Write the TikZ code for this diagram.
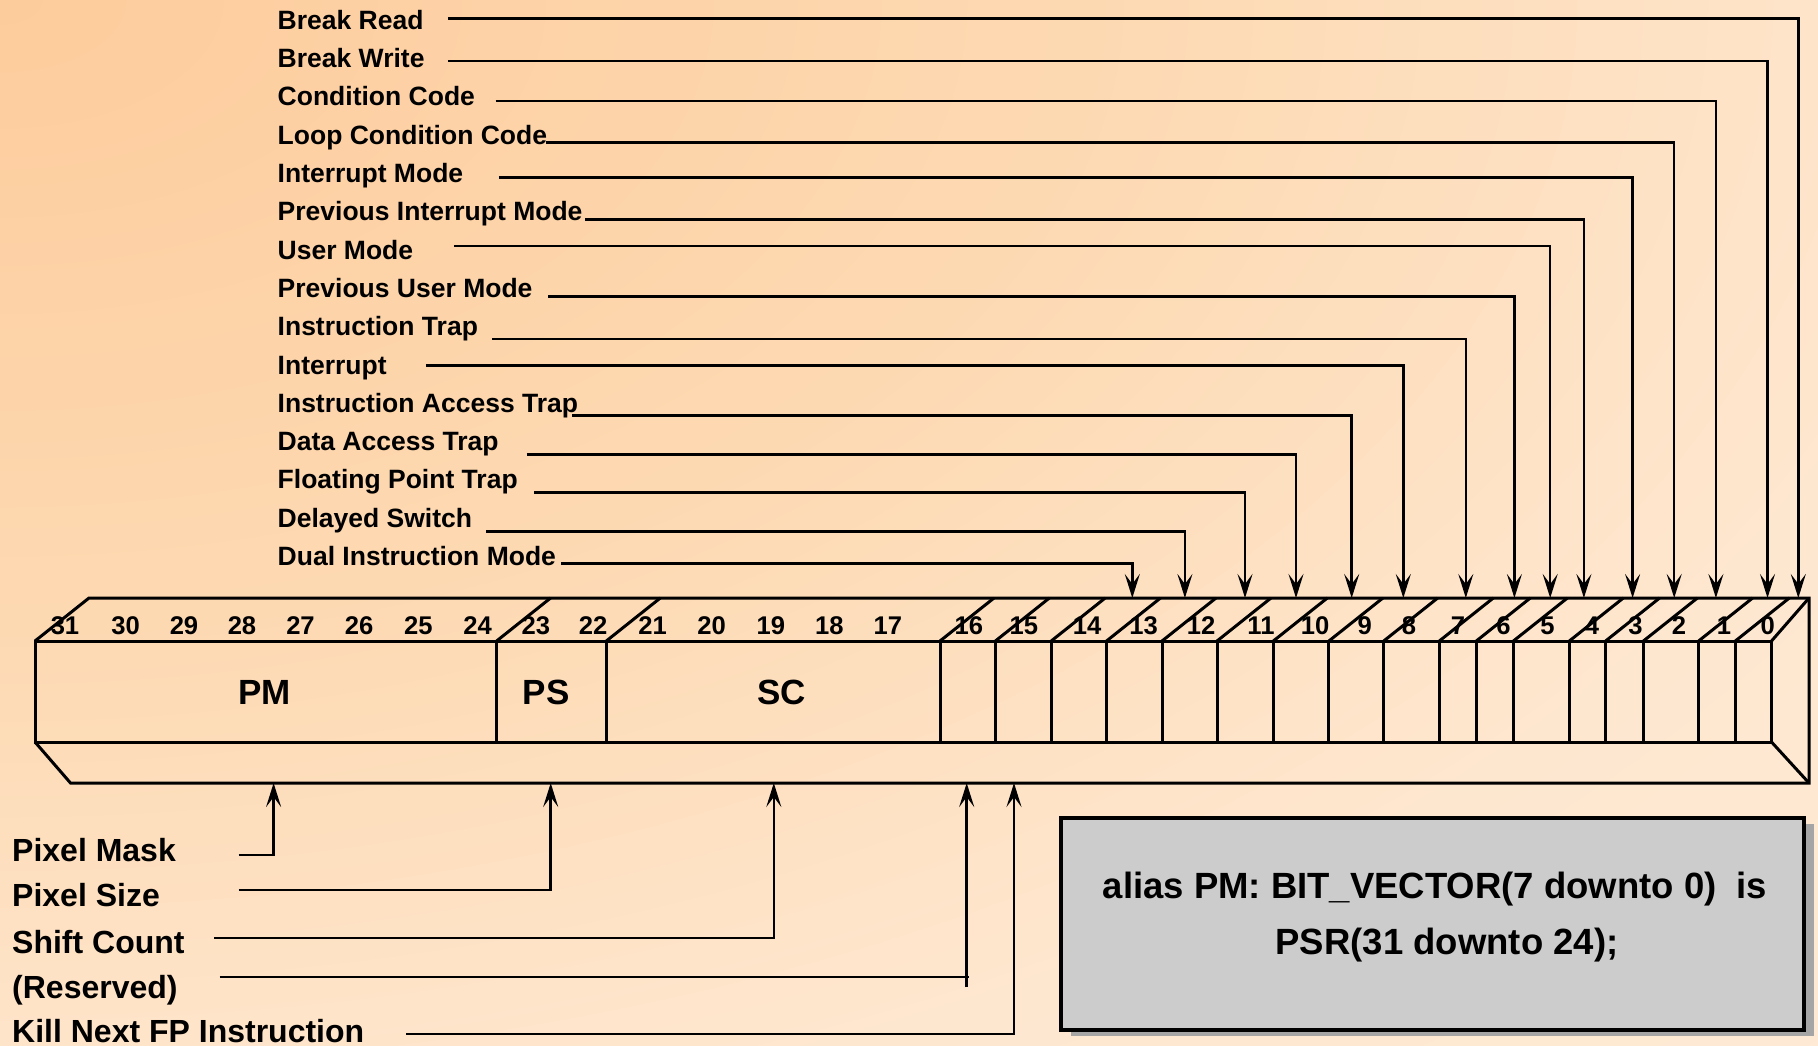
\documentclass[tikz,border=0pt]{standalone}
\usepackage{fontspec}
\usepackage{graphicx}
\setmainfont{Liberation Sans}
\usetikzlibrary{arrows.meta}
\definecolor{bgA}{RGB}{253,204,156}
\definecolor{bgB}{RGB}{253,217,178}
\definecolor{bgC}{RGB}{254,231,207}
\definecolor{bgD}{RGB}{255,239,223}
\definecolor{bgE}{RGB}{255,242,230}
\definecolor{boxgray}{RGB}{204,204,204}
\definecolor{shadowgray}{RGB}{165,165,165}
\pgfdeclareradialshading{bgshade}{\pgfpoint{0bp}{0bp}}{color(0bp)=(bgA); color(15bp)=(bgB); color(27.5bp)=(bgC); color(50bp)=(bgD); color(72bp)=(bgE)}
\tikzset{
  toplbl/.style={anchor=base west, inner sep=0pt, font=\fontsize{26.5}{30}\selectfont\bfseries},
  botlbl/.style={anchor=base west, inner sep=0pt, font=\fontsize{32}{36}\selectfont\bfseries},
  bitnum/.style={inner sep=0pt, font=\fontsize{25.6}{28}\selectfont\bfseries},
  fieldlbl/.style={inner sep=0pt, font=\fontsize{35}{40}\selectfont\bfseries},
  aliastxt/.style={inner sep=0pt, font=\fontsize{36.5}{40}\selectfont\bfseries},
  reg/.style={line width=3pt, line join=miter},
  conn/.style={line width=2.5pt},
  tip/.style={-{Stealth[length=24pt,width=15pt,inset=10pt]}}
}
\begin{document}
\begin{tikzpicture}[x=1pt,y=-1pt]
\path[use as bounding box] (0,0) rectangle (1818,1046);
\begin{scope}
  \clip (0,0) rectangle (1818,1046);
  \shade[shading=bgshade] (-1818,-1046) rectangle (1818,1046);
\end{scope}

% ---- register drawing ----
\coordinate (FTL) at (35,641);
\coordinate (FTR) at (1771.5,641);
\coordinate (FBL) at (35,742);
\coordinate (FBR) at (1771.5,742);
\coordinate (BTL) at (89,598);
\coordinate (BTR) at (1809,598);
\coordinate (BBL) at (70.5,783);
\coordinate (BBR) at (1809,783);
\draw[reg] (FTL) rectangle (FBR);
\draw[reg] (FTL) -- (BTL) -- (BTR) -- (BBR) -- (BBL) -- (FBL);
\draw[reg] (FTR) -- (BTR);
\draw[reg] (FBR) -- (BBR);
\foreach \x in {496.6,606.3,940,995.4,1051.2,1106.5,1162,1217,1273.3,1328.9,1383.7,1439.3,1476.3,1513.4,1569.3,1605.6,1643.4,1698.6,1735.3} {
  \draw[reg] (\x,641) -- (\x,742);
  \draw[reg] (\x,641) -- (\x+54,598);
}
\foreach \n/\x in {31/65,30/125.7,29/184,28/242,27/300.5,26/359,25/418.4,24/477.6,23/535.8,22/593,21/652.6,20/711.5,19/770.8,18/829.3,17/887.9,16/968.9,15/1023.9,14/1087,13/1143.7,12/1201,11/1261,10/1315,9/1364.8,8/1409,7/1458,6/1503.5,5/1547.6,4/1592,3/1635.5,2/1679,1/1724,0/1767.6} {
  \node[bitnum] (b\n) at (\x,626) {\n};
}
\node[fieldlbl] (pm) at (264.3,692.5) {PM};
\node[fieldlbl] (ps) at (546,692.5) {PS};
\node[fieldlbl] (sc) at (781.5,692.5) {SC};

% ---- top labels and connectors ----
\foreach [count=\i] \txt/\sx/\ly/\vx in {
  Break Read/447.8/18.5/1798.3,
  Break Write/447.8/61/1767.5,
  Condition Code/495.7/100.8/1715.9,
  Loop Condition Code/545.7/142.6/1674.2,
  Interrupt Mode/498.8/177.5/1632.6,
  Previous Interrupt Mode/585/219.5/1583.9,
  User Mode/453.9/246/1550.2,
  Previous User Mode/548.3/296.5/1514.4,
  Instruction Trap/492/339/1465.8,
  Interrupt/425.8/365.7/1403.3,
  Instruction Access Trap/572/415.7/1351.7,
  Data Access Trap/526.8/454.3/1296,
  Floating Point Trap/534/492.7/1245,
  Delayed Switch/486/531.7/1184.9,
  Dual Instruction Mode/561/563.3/1132.3} {
  \node[toplbl] (l\i) at (277.5,{29.3+38.3*(\i-1)}) {\txt};
  \coordinate (s\i) at (\sx,\ly);
  \coordinate (t\i) at (\vx,598);
  \draw[conn,tip] (s\i) -| (t\i);
}

% ---- bottom labels and connectors ----
\node[botlbl] (pixmask) at (12,861.5) {Pixel Mask};
\node[botlbl] (pixsize) at (12,906.5) {Pixel Size};
\node[botlbl] (shift) at (12,953) {Shift Count};
\node[botlbl] (resv) at (12,998.5) {(Reserved)};
\node[botlbl] (kill) at (12,1042) {Kill Next FP Instruction};

\coordinate (pmS) at (238.5,855);  \coordinate (pmT) at (273.6,783);
\coordinate (psS) at (238.5,890);  \coordinate (psT) at (550.7,783);
\coordinate (scS) at (214,938);    \coordinate (scT) at (773.8,783);
\coordinate (rvS) at (219.6,977);  \coordinate (rvE) at (969,977);
\coordinate (rvB) at (966.7,987);  \coordinate (rvT) at (966.7,783);
\coordinate (kS) at (406,1034);    \coordinate (kT) at (1014,783);
\draw[conn,tip] (pmS) -| (pmT);
\draw[conn,tip] (psS) -| (psT);
\draw[conn,tip] (scS) -| (scT);
\draw[conn] (rvS) -- (rvE);
\draw[conn,tip] (rvB) -- (rvT);
\draw[conn,tip] (kS) -| (kT);

% ---- alias box ----
\fill[shadowgray] (1071,824) rectangle (1814,1036);
\draw[line width=4.5pt, fill=boxgray] (1061,818) rectangle (1804,1030);
\node[aliastxt] (al1) at (1435,889) {alias PM: BIT\_VECTOR(7 downto 0)\ \ is};
\node[aliastxt] (al2) at (1447,945) {PSR(31 downto 24);};
\end{tikzpicture}
\end{document}
